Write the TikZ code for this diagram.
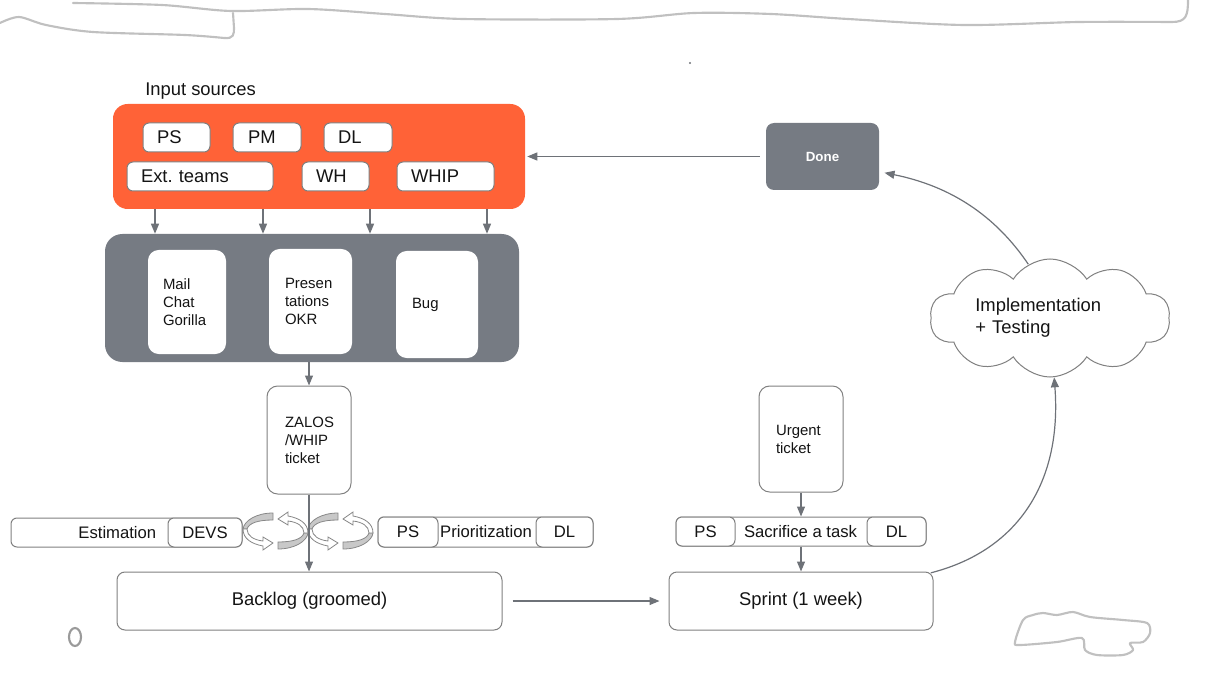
\documentclass[tikz,border=0pt]{standalone}
\usepackage{fontspec}
\setmainfont{Liberation Sans}
\usetikzlibrary{arrows.meta,shapes.symbols}
\definecolor{orng}{RGB}{255,98,55}
\definecolor{contgray}{RGB}{118,123,131}
\definecolor{arrgray}{RGB}{110,114,120}
\definecolor{bordgray}{RGB}{128,128,128}
\definecolor{swfill}{RGB}{200,200,200}
\definecolor{swedge}{RGB}{135,135,135}
\definecolor{sketchc}{RGB}{192,192,192}
\definecolor{txt}{RGB}{20,20,20}
\newcommand\mybig{\fontsize{13.8}{16.5}\selectfont}
\newcommand\myrow{\fontsize{12.5}{15}\selectfont}
\newcommand\mysmall{\fontsize{11.2}{13.5}\selectfont}
\tikzset{
  sz/.style 2 args={minimum width=#1*0.75pt, minimum height=#2*0.75pt},
  lbox/.style n args={3}{minimum width=#1*0.75pt, minimum height=#2*0.75pt,
     inner xsep=#3*0.75pt, inner ysep=0pt, text width=(#1-2*#3)*0.75pt, align=left},
  wbox/.style={draw=bordgray, fill=white, line width=0.75pt, rounded corners=4.5pt, text=txt, font=\mybig},
  tallbox/.style={draw=bordgray, fill=white, line width=0.75pt, rounded corners=8pt, text=txt, font=\mysmall},
  innerbox/.style={fill=white, draw=none, rounded corners=8pt, text=txt, font=\mysmall},
  rowbox/.style={draw=bordgray, fill=white, line width=0.75pt, rounded corners=4.5pt, text=txt, font=\myrow, inner sep=0pt},
  bigbox/.style={draw=bordgray, fill=white, line width=0.75pt, rounded corners=6pt, text=txt, font=\mybig},
  rowtext/.style={text=txt, font=\myrow, inner sep=0pt},
  arr/.style={draw=arrgray, line width=0.9pt, -{Triangle[length=7.5pt,width=6pt]}},
  sketch/.style={draw=sketchc, line width=1.6pt, line cap=round, line join=round},
  swirl/.pic={
    \filldraw[fill=swfill, draw=swedge, line width=0.6pt]
      (15,-18) .. controls (-2,-18) and (-14,-10) .. (-15,-2)
      -- (-11,-2) .. controls (-9,-8) and (0,-11) .. (15,-11) -- cycle;
    \filldraw[fill=white, draw=swedge, line width=0.6pt]
      (-15,-2) .. controls (-15,8) and (-6,13) .. (5,15)
      -- (5,19) -- (15,12) -- (5,6) -- (5,10)
      .. controls (-4,9) and (-11,5) .. (-11,-2) -- cycle;
  }
}
\begin{document}
\frenchspacing
\begin{tikzpicture}[x=0.75pt,y=-0.75pt]
\useasboundingbox (0,0) rectangle (1209,677);

% sketch remnants
\draw[sketch] plot[smooth] coordinates {(73,3) (162,5) (231,11) (308,9) (385,14) (463,19) (617,19) (694,13) (771,14) (848,19) (964,25) (1079,22) (1172,22)}
   .. controls (1186,22) and (1188,16) .. (1188,0);
\draw[sketch] plot[smooth] coordinates {(0,23) (19,17) (46,25) (93,32) (185,35) (224,38)}
   .. controls (234,39) and (234,34) .. (234,28) -- (233,13);
\draw[sketch] plot[smooth cycle] coordinates {(1015,642) (1023,620) (1033,615) (1043,613) (1057,615) (1073,612) (1090,617) (1123,620) (1147,623) (1150,633) (1143,642) (1130,643) (1133,650) (1123,655) (1097,655) (1085,650) (1082,638) (1057,642) (1020,645)};
\draw[sketch, draw=sketchc!80!black] (75,637) ellipse [x radius=6, y radius=9];
\fill[arrgray] (690,63) circle [radius=1.2];

% input sources
\node[text=txt, font=\mybig, anchor=base west, inner sep=0pt] (title) at (145,96) {Input sources};
\node[fill=orng, rounded corners=11pt, sz={412}{105}] (src) at (319,156.5) {};
\node[wbox, lbox={67}{29}{14}] (ps1) at (176.5,137.5) {PS};
\node[wbox, lbox={68}{29}{15}] (pm) at (267,137.5) {PM};
\node[wbox, lbox={68}{29}{14}] (dl1) at (358,137.5) {DL};
\node[wbox, lbox={146}{29}{14}] (ext) at (200,176.5) {Ext. teams};
\node[wbox, lbox={67}{29}{14}] (wh) at (335.5,176.5) {WH};
\node[wbox, lbox={97}{29}{14}] (whip) at (445.5,176.5) {WHIP};

% channels
\node[fill=contgray, rounded corners=13pt, sz={414}{128}] (chan) at (312,298) {};
\node[innerbox, lbox={78}{104}{15}] (mail) at (187,302) {Mail\\Chat\\Gorilla};
\node[innerbox, lbox={83}{105}{16}] (pres) at (310.5,301.5) {Presen\\tations\\OKR};
\node[innerbox, lbox={82}{107}{16}] (bug) at (437,304.5) {Bug};
\foreach \x in {155,263,370,487}
  \draw[arr] (\x,0 |- src.south) -- (\x,0 |- chan.north);

% ticket
\node[tallbox, lbox={84}{108}{18}] (zalos) at (309,440) {ZALOS\\/WHIP\\ticket};
\draw[arr] (zalos.north |- chan.south) -- (zalos.north);

% estimation row
\node[rowbox, sz={231}{29}] (estrow) at (126.5,532.5) {};
\node[rowbox, sz={74}{29}] (devs) at (205,532.5) {DEVS};
\node[rowtext, anchor=east] (est) at ([xshift=-8.25pt]devs.west) {Estimation};

% prioritization row
\node[rowbox, sz={215}{30}] (prrow) at (485.5,532) {};
\node[rowbox, sz={60}{30}] (ps2) at (408,532) {PS};
\node[rowbox, sz={57}{30}] (dl2) at (564.5,532) {DL};
\node[rowtext] (prio) at (486,532) {Prioritization};

% swirls
\pic at (258,531) {swirl};
\pic[rotate=180] at (293,531) {swirl};
\pic at (323,531) {swirl};
\pic[rotate=180] at (358,531) {swirl};

% backlog
\node[bigbox, sz={385}{58}] (backlog) at (309.5,601) {Backlog (groomed)};
\draw[arr] (zalos.south) -- (zalos.south |- backlog.north);

% urgent path
\node[tallbox, lbox={84}{106}{17}] (urgent) at (801,439) {Urgent\\ticket};
\node[rowbox, sz={250}{29}] (sacrow) at (801,531.5) {};
\node[rowbox, sz={59}{29}] (ps3) at (705.5,531.5) {PS};
\node[rowbox, sz={59}{29}] (dl3) at (896.5,531.5) {DL};
\node[rowtext] (sac) at (800.5,531.5) {Sacrifice a task};
\node[bigbox, sz={264}{58}] (sprint) at (801,601) {Sprint (1 week)};
\draw[arr] (urgent.south) -- (urgent.south |- sacrow.north);
\draw[arr] (urgent.south |- sacrow.south) -- (urgent.south |- sprint.north);
\draw[arr, shorten <=7.5pt, shorten >=6.75pt] (backlog.east) -- (sprint.west);

% cloud and done
\node[cloud, cloud puffs=10, cloud puff arc=115, cloud ignores aspect, draw=bordgray, line width=0.75pt, fill=white, minimum width=240*0.75pt, minimum height=118*0.75pt, inner sep=0pt, text width=112pt, align=left, text=txt, font=\mybig] (impl) at (1050,318) {Implementation\\+ Testing};
\node[fill=contgray, rounded corners=6pt, sz={113}{67}, text=white, font=\fontsize{10}{12}\selectfont\bfseries] (done) at (822.5,156.5) {Done};
\draw[arr] ([xshift=-2pt,yshift=-1pt]sprint.north east) .. controls (1020,550) and (1062,480) .. (impl.-86);
\draw[arr, shorten >=4pt] (impl.112) .. controls (995,215) and (950,186) .. (done.-15);
\draw[arr, shorten <=4.5pt, shorten >=1.5pt] (done.west) -- (src.east);
\end{tikzpicture}
\end{document}
